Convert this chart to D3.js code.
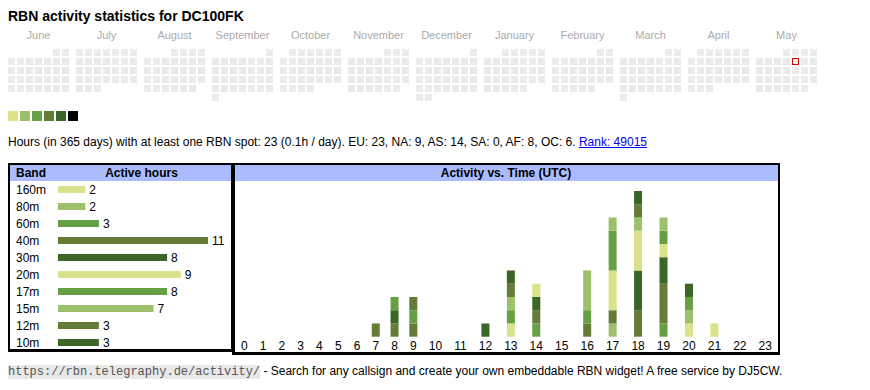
<!DOCTYPE html>
<html>
<head>
<meta charset="utf-8">
<script src="https://cdn.jsdelivr.net/npm/d3@7"></script>
<style>
  body { margin: 0; background: #fff; }
  svg { display: block; font-family: "Liberation Sans", Arial, sans-serif; }
  svg text { white-space: pre; }
</style>
</head>
<body>
<svg id="chart"></svg>
<script>
// ---- data ----
const callsign = "DC100FK";
const monthLabels = ["June", "July", "August", "September", "October", "November",
                     "December", "January", "February", "March", "April", "May"];
const calStart = new Date(2024, 5, 1);
const calEnd = new Date(2025, 5, 1);
const today = new Date(2025, 4, 9);

const bands = ["160m", "80m", "60m", "40m", "30m", "20m", "17m", "15m", "12m", "10m"];
const activeHours = [2, 2, 3, 11, 8, 9, 8, 7, 3, 3];
const hours = d3.range(24);

// hours per band at each UTC hour (0..23)
const h160 = [0,0,0,0,0,0,0,0,0,0,0,0,0,0,0,0,0,0,0,0,1,1,0,0];
const h80  = [0,0,0,0,0,0,0,0,0,0,0,0,0,0,0,0,0,1,0,0,1,0,0,0];
const h60  = [0,0,0,0,0,0,0,0,0,0,0,0,0,0,1,0,0,0,0,1,1,0,0,0];
const h40  = [0,0,0,0,0,0,0,1,1,1,0,0,0,0,1,0,1,1,2,3,0,0,0,0];
const h30  = [0,0,0,0,0,0,0,0,1,0,0,0,1,0,1,0,0,0,3,2,0,0,0,0];
const h20  = [0,0,0,0,0,0,0,0,0,0,0,0,0,1,1,0,0,3,3,1,0,0,0,0];
const h17  = [0,0,0,0,0,0,0,0,1,1,0,0,0,1,0,0,1,3,0,1,0,0,0,0];
const h15  = [0,0,0,0,0,0,0,0,0,0,0,0,0,1,0,0,3,1,1,1,0,0,0,0];
const h12  = [0,0,0,0,0,0,0,0,0,1,0,0,0,1,0,0,0,0,1,0,0,0,0,0];
const h10  = [0,0,0,0,0,0,0,0,0,0,0,0,0,1,0,0,0,0,1,0,1,0,0,0];
const bandHourly = [h160, h80, h60, h40, h30, h20, h17, h15, h12, h10];

const bandColors = ["#dae28a", "#9dc06b", "#67a044", "#657b38", "#3b6627",
                    "#dae28a", "#67a044", "#9dc06b", "#657b38", "#3b6627"];
const legendColors = ["#dae28a", "#9dc06b", "#67a044", "#657b38", "#3b6627", "#000000"];

const summary = "Hours (in 365 days) with at least one RBN spot: 23 (0.1h / day). EU: 23, NA: 9, AS: 14, SA: 0, AF: 8, OC: 6. ";
const rankText = "Rank: 49015";
const footUrl = "https://rbn.telegraphy.de/activity/";
const footText = " - Search for any callsign and create your own embeddable RBN widget! A free service by DJ5CW.";

// ---- setup ----
const width = 870, height = 390;
const svg = d3.select("#chart").attr("width", width).attr("height", height);
svg.append("rect").attr("width", width).attr("height", height).attr("fill", "#fff");

// title
svg.append("text")
  .attr("x", 8).attr("y", 21)
  .attr("font-size", 14).attr("font-weight", "bold")
  .text("RBN activity statistics for " + callsign);

// ---- calendar ----
const cell = 7, pitch = 9, monthPitch = 68, calX = 8, calY = 49;
const monthScale = d3.scaleBand().domain(d3.range(12)).range([calX, calX + 12 * monthPitch]);

svg.append("g").selectAll("text")
  .data(monthLabels)
  .join("text")
  .attr("x", (d, i) => monthScale(i) + (7 * pitch - 2) / 2)
  .attr("y", 39)
  .attr("text-anchor", "middle")
  .attr("font-size", 11)
  .attr("fill", "#aaaaaa")
  .text(d => d);

const days = d3.timeDays(calStart, calEnd);
const monthIndex = d => (d.getFullYear() - 2024) * 12 + d.getMonth() - 5;
const weekday = d => (d.getDay() + 6) % 7;
const weekRow = d => {
  const first = new Date(d.getFullYear(), d.getMonth(), 1);
  return Math.floor((d.getDate() - 1 + weekday(first)) / 7);
};
const isToday = d => +d === +today;

svg.append("g").selectAll("rect")
  .data(days)
  .join("rect")
  .attr("x", d => monthScale(monthIndex(d)) + weekday(d) * pitch + (isToday(d) ? 0.5 : 0))
  .attr("y", d => calY + weekRow(d) * pitch + (isToday(d) ? 0.5 : 0))
  .attr("width", d => isToday(d) ? cell - 1 : cell)
  .attr("height", d => isToday(d) ? cell - 1 : cell)
  .attr("fill", d => isToday(d) ? "#fff" : "#ebebeb")
  .attr("stroke", d => isToday(d) ? "#e00000" : "none")
  .attr("stroke-width", 1);

// legend
svg.append("g").selectAll("rect")
  .data(legendColors)
  .join("rect")
  .attr("x", (d, i) => 8 + i * 12)
  .attr("y", 111)
  .attr("width", 10).attr("height", 10)
  .attr("fill", d => d);

// summary line
const sum = svg.append("text")
  .attr("x", 8).attr("y", 146)
  .attr("font-size", 12)
  .text(summary);
const sumW = sum.node().getComputedTextLength();
const rank = svg.append("text")
  .attr("x", 8 + sumW).attr("y", 146)
  .attr("font-size", 12)
  .attr("fill", "#0000ee")
  .text(rankText);
const rankW = rank.node().getComputedTextLength();
svg.append("line")
  .attr("x1", 8 + sumW).attr("x2", 8 + sumW + rankW)
  .attr("y1", 147.5).attr("y2", 147.5)
  .attr("stroke", "#0000ee").attr("stroke-width", 1);

// ---- left table: band / active hours ----
const lt = { x0: 8, x1: 233, y0: 163, y1: 352 };
svg.append("rect")
  .attr("x", lt.x0 + 2).attr("y", lt.y0 + 2)
  .attr("width", lt.x1 - lt.x0 - 4).attr("height", 16)
  .attr("fill", "#aabbff");
svg.append("text").attr("x", 16).attr("y", 177)
  .attr("font-size", 12).attr("font-weight", "bold").text("Band");
svg.append("text").attr("x", 141.5).attr("y", 177)
  .attr("text-anchor", "middle")
  .attr("font-size", 12).attr("font-weight", "bold").text("Active hours");

const rowY = d3.scalePoint().domain(bands).range([189.5, 342.5]);
const hx = d3.scaleLinear().domain([0, 11]).range([0, 150]);

const rows = svg.append("g").selectAll("g")
  .data(bands)
  .join("g")
  .attr("transform", d => `translate(0,${rowY(d)})`);
rows.append("text")
  .attr("x", 16).attr("y", 4.2)
  .attr("font-size", 12)
  .text(d => d);
rows.append("rect")
  .attr("x", 58).attr("y", -3.5)
  .attr("width", (d, i) => hx(activeHours[i]))
  .attr("height", 7)
  .attr("fill", (d, i) => bandColors[i]);
rows.append("text")
  .attr("x", (d, i) => 58 + hx(activeHours[i]) + 4)
  .attr("y", 4.2)
  .attr("font-size", 12)
  .text((d, i) => activeHours[i]);

// border of left table
svg.append("path")
  .attr("d", `M${lt.x0 + 1},${lt.y0 + 1}H${lt.x1 - 1}V${lt.y1 - 1.5}H${lt.x0 + 1}Z`)
  .attr("fill", "none").attr("stroke", "#000").attr("stroke-width", 2);
svg.append("line")
  .attr("x1", lt.x0).attr("x2", lt.x1)
  .attr("y1", lt.y1 - 1.5).attr("y2", lt.y1 - 1.5)
  .attr("stroke", "#000").attr("stroke-width", 3);

// ---- right table: activity vs time ----
const rt = { x0: 232, x1: 780, y0: 163, y1: 355 };
svg.append("rect")
  .attr("x", rt.x0 + 2).attr("y", rt.y0 + 2)
  .attr("width", rt.x1 - rt.x0 - 4).attr("height", 16)
  .attr("fill", "#aabbff");
svg.append("text").attr("x", (rt.x0 + rt.x1) / 2).attr("y", 177)
  .attr("text-anchor", "middle")
  .attr("font-size", 12).attr("font-weight", "bold").text("Activity vs. Time (UTC)");

// hour labels, auto column widths like a html table
const hourG = svg.append("g");
const hourLabels = hourG.selectAll("text")
  .data(hours)
  .join("text")
  .attr("y", 349.5)
  .attr("text-anchor", "middle")
  .attr("font-size", 12)
  .text(d => d);
const labelW = hourLabels.nodes().map(n => n.getComputedTextLength());
const innerX0 = rt.x0 + 3, innerX1 = rt.x1 - 2;
const pad = (innerX1 - innerX0 - d3.sum(labelW)) / hours.length;
let acc = innerX0;
const centers = labelW.map(w => { const c = acc + (w + pad) / 2; acc += w + pad; return c; });
const hourX = d3.scaleOrdinal().domain(hours).range(centers);
hourLabels.attr("x", d => hourX(d));

const yAct = d3.scaleLinear().domain([0, 11]).range([336.7, 191]);
const stack = d3.stack()
  .keys(d3.range(bands.length))
  .value((h, k) => bandHourly[k][h]);
const series = stack(hours);

svg.append("g").selectAll("g")
  .data(series)
  .join("g")
  .attr("fill", d => bandColors[d.key])
  .selectAll("rect")
  .data(d => d.map((s, i) => ({ hour: hours[i], y0: s[0], y1: s[1] })).filter(s => s.y1 > s.y0))
  .join("rect")
  .attr("x", d => hourX(d.hour) - 4)
  .attr("width", 8)
  .attr("y", d => yAct(d.y1))
  .attr("height", d => yAct(d.y0) - yAct(d.y1));

svg.append("path")
  .attr("d", `M${rt.x0 + 1.5},${rt.y0 + 1}H${rt.x1 - 1}V${rt.y1 - 1.5}H${rt.x0 + 1.5}Z`)
  .attr("fill", "none").attr("stroke", "#000").attr("stroke-width", 2);
svg.append("line")
  .attr("x1", rt.x0).attr("x2", rt.x1)
  .attr("y1", rt.y1 - 1.5).attr("y2", rt.y1 - 1.5)
  .attr("stroke", "#000").attr("stroke-width", 3);
svg.append("line")
  .attr("x1", rt.x0 + 1.5).attr("x2", rt.x0 + 1.5)
  .attr("y1", rt.y0).attr("y2", rt.y1)
  .attr("stroke", "#000").attr("stroke-width", 3);

// ---- footer ----
const codeBg = svg.append("rect")
  .attr("x", 8).attr("y", 365)
  .attr("height", 14)
  .attr("fill", "#e8e8e8");
const code = svg.append("text")
  .attr("x", 8).attr("y", 375)
  .attr("font-family", "'Liberation Mono', 'Courier New', monospace")
  .attr("font-size", 12)
  .attr("fill", "#555")
  .text(footUrl);
const codeW = code.node().getComputedTextLength();
codeBg.attr("width", codeW);
svg.append("text")
  .attr("x", 8 + codeW).attr("y", 375)
  .attr("font-size", 12)
  .text(footText);
</script>
</body>
</html>
